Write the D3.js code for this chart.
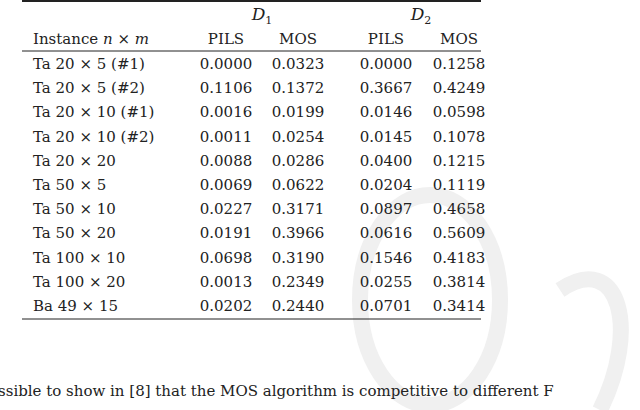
<!DOCTYPE html>
<html><head><meta charset="utf-8">
<script src="https://cdn.jsdelivr.net/npm/d3@7"></script>
<style>body{margin:0;background:#fff}</style>
</head><body>
<script>
var instances = ["Ta 20 × 5 (#1)","Ta 20 × 5 (#2)","Ta 20 × 10 (#1)","Ta 20 × 10 (#2)","Ta 20 × 20","Ta 50 × 5","Ta 50 × 10","Ta 50 × 20","Ta 100 × 10","Ta 100 × 20","Ba 49 × 15"]
var d1Pils = ["0.0000","0.1106","0.0016","0.0011","0.0088","0.0069","0.0227","0.0191","0.0698","0.0013","0.0202"]
var d1Mos  = ["0.0323","0.1372","0.0199","0.0254","0.0286","0.0622","0.3171","0.3966","0.3190","0.2349","0.2440"]
var d2Pils = ["0.0000","0.3667","0.0146","0.0145","0.0400","0.0204","0.0897","0.0616","0.1546","0.0255","0.0701"]
var d2Mos  = ["0.1258","0.4249","0.0598","0.1078","0.1215","0.1119","0.4658","0.5609","0.4183","0.3814","0.3414"]
var columns = ["PILS","MOS","PILS","MOS"]

var w = 640, h = 410
var svg = d3.select("body").append("svg").attr("width", w).attr("height", h)
  .style("font-family", "'DejaVu Serif', serif").style("font-size", "15px").style("fill", "#222")

// watermark, behind everything
svg.append("ellipse").attr("cx", 430).attr("cy", 300).attr("rx", 70).attr("ry", 105).attr("fill", "none").attr("stroke", "#f0f0f0").attr("stroke-width", 16)
svg.append("path").attr("d", "M560,290 C620,250 640,330 600,410").attr("fill", "none").attr("stroke", "#f0f0f0").attr("stroke-width", 16)

var y = d3.scaleLinear().domain([0, 10]).range([69, 311])
var colX = [226, 298, 386, 459]

// rules
svg.append("line").attr("x1", 22).attr("x2", 481).attr("y1", 1).attr("y2", 1).attr("stroke", "#222").attr("stroke-width", 2.2)
svg.append("line").attr("x1", 22).attr("x2", 481).attr("y1", 51).attr("y2", 51).attr("stroke", "#222").attr("stroke-width", 1)
svg.append("line").attr("x1", 22).attr("x2", 481).attr("y1", 319).attr("y2", 319).attr("stroke", "#222").attr("stroke-width", 1)

// group headers
var dh = [["D", "1", 262], ["D", "2", 421]]
dh.forEach(function(d) {
  var t = svg.append("text").attr("x", d[2]).attr("y", 20).attr("text-anchor", "middle").style("font-style", "italic").style("font-size", "17px")
  t.append("tspan").text(d[0])
  t.append("tspan").attr("dy", 4).style("font-size", "11px").style("font-style", "normal").text(d[1])
})

// column headers
var hdr = svg.append("text").attr("x", 33).attr("y", 44)
hdr.append("tspan").text("Instance ")
hdr.append("tspan").style("font-style", "italic").text("n")
hdr.append("tspan").text(" × ")
hdr.append("tspan").style("font-style", "italic").text("m")
svg.selectAll("text.ch").data(columns).enter().append("text").attr("class", "ch")
  .attr("x", function(d, i) { return colX[i] }).attr("y", 44).attr("text-anchor", "middle").text(function(d) { return d })

// body rows
svg.selectAll("text.inst").data(instances).enter().append("text").attr("class", "inst")
  .attr("x", 33).attr("y", function(d, i) { return y(i) }).text(function(d) { return d })
;[d1Pils, d1Mos, d2Pils, d2Mos].forEach(function(col, c) {
  svg.selectAll("text.c" + c).data(col).enter().append("text").attr("class", "c" + c)
    .attr("x", colX[c]).attr("y", function(d, i) { return y(i) }).attr("text-anchor", "middle").text(function(d) { return d })
})

svg.append("text").attr("x", -2).attr("y", 396).text("ssible to show in [8] that the MOS algorithm is competitive to different F")
</script>
</body></html>
